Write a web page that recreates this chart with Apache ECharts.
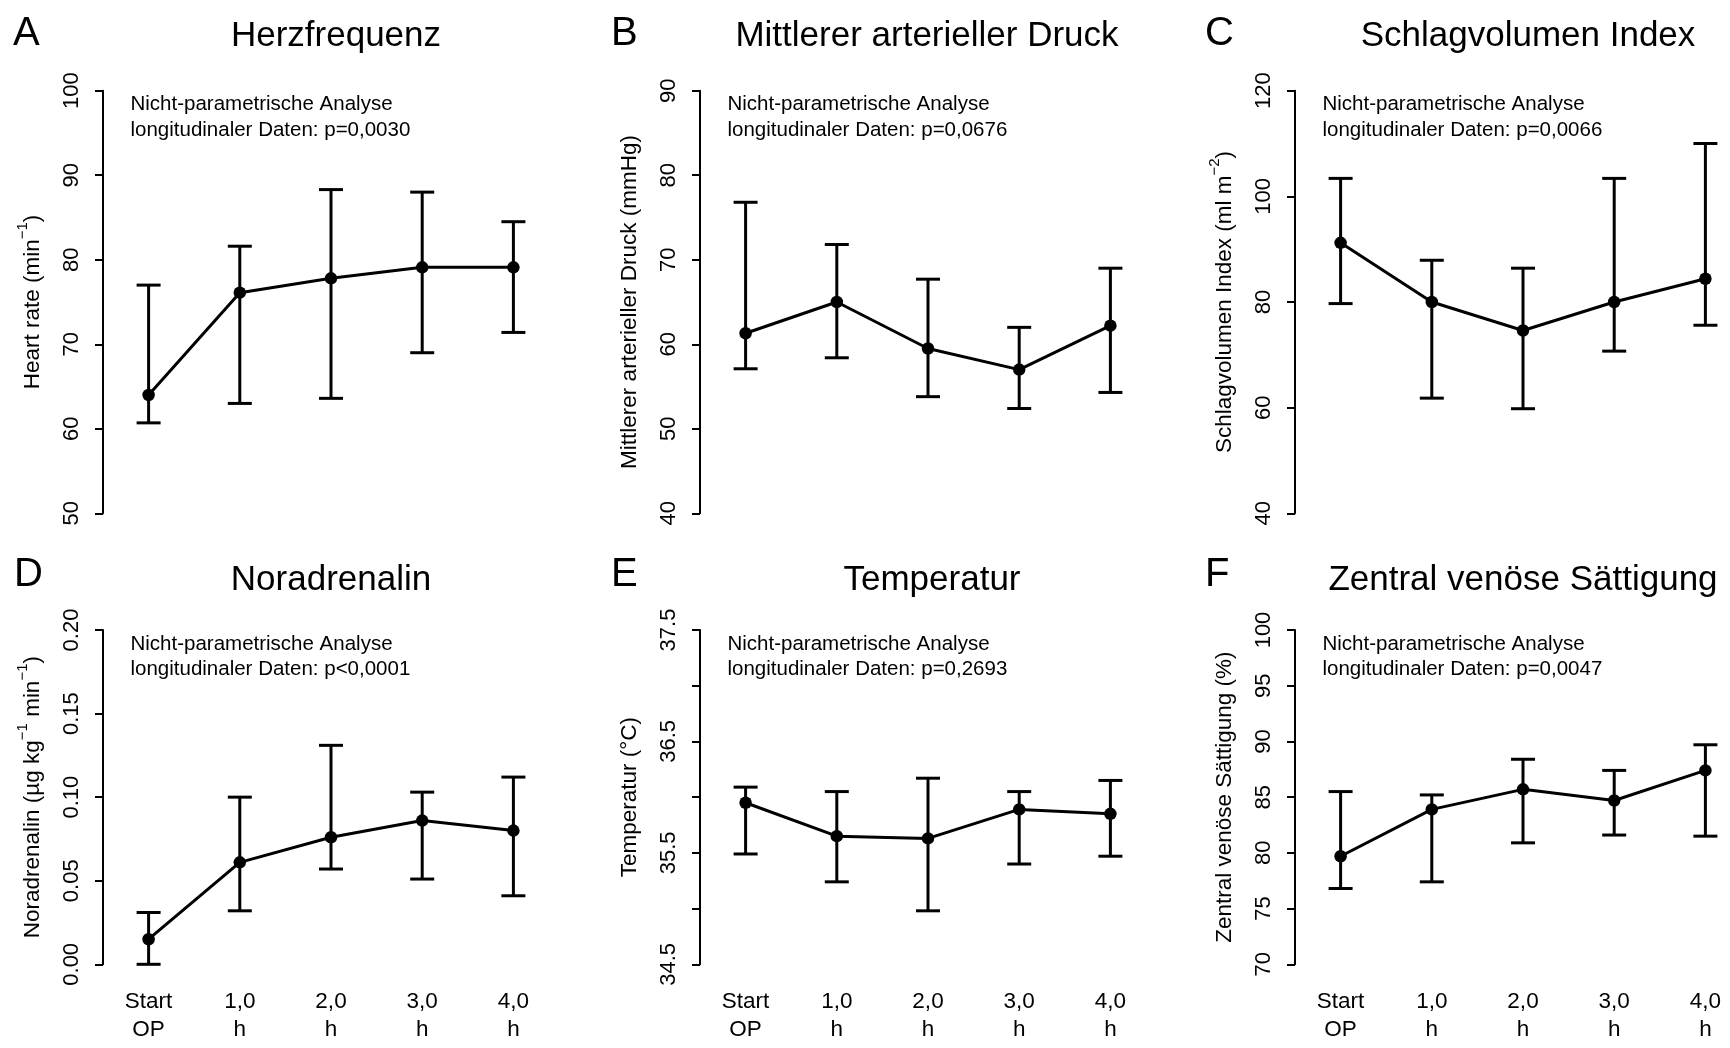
<!DOCTYPE html>
<html>
<head>
<meta charset="utf-8">
<script src="https://cdn.jsdelivr.net/npm/echarts@6/dist/echarts.min.js"></script>
<style>
  html, body { margin: 0; padding: 0; background: #fff; }
  #chart { width: 1730px; height: 1048px; }
</style>
</head>
<body>
<div id="chart"></div>
<script>
// Zeitpunkte
var categories = ['Start\nOP', '1,0\nh', '2,0\nh', '3,0\nh', '4,0\nh']

// A Herzfrequenz
var hrMean = [64.0, 76.1, 77.8, 79.1, 79.1]
var hrLow = [60.7, 63.0, 63.6, 69.0, 71.4]
var hrHigh = [77.0, 81.6, 88.3, 88.0, 84.5]

// B Mittlerer arterieller Druck
var mapMean = [61.3, 65.0, 59.5, 57.0, 62.2]
var mapLow = [57.1, 58.4, 53.8, 52.4, 54.3]
var mapHigh = [76.8, 71.8, 67.7, 62.0, 69.0]

// C Schlagvolumen Index
var sviMean = [91.2, 80.0, 74.6, 80.0, 84.4]
var sviLow = [79.7, 61.8, 59.8, 70.7, 75.6]
var sviHigh = [103.4, 87.9, 86.4, 103.4, 110.0]

// D Noradrenalin
var naMean = [0.015, 0.061, 0.076, 0.086, 0.080]
var naLow = [0.000, 0.032, 0.057, 0.051, 0.041]
var naHigh = [0.031, 0.100, 0.131, 0.103, 0.112]

// E Temperatur
var tempMean = [35.95, 35.65, 35.63, 35.89, 35.85]
var tempLow = [35.49, 35.24, 34.98, 35.40, 35.47]
var tempHigh = [36.09, 36.05, 36.17, 36.05, 36.15]

// F Zentral venöse Sättigung
var svoMean = [79.7, 83.9, 85.7, 84.7, 87.4]
var svoLow = [76.8, 77.4, 80.9, 81.6, 81.5]
var svoHigh = [85.5, 85.2, 88.4, 87.4, 89.7]

var pValues = ['p=0,0030', 'p=0,0676', 'p=0,0066', 'p<0,0001', 'p=0,2693', 'p=0,0047']

var FONT = '"Liberation Sans", Arial, Helvetica, sans-serif'

var panels = [
  { letter: 'A', title: 'Herzfrequenz', name: '{n|Heart rate (min}{s|\u22121}{n|)}',
    min: 50, max: 100, interval: 10, mean: hrMean, low: hrLow, high: hrHigh,
    fmt: function(v) { return String(v) } },
  { letter: 'B', title: 'Mittlerer arterieller Druck', name: '{n|Mittlerer arterieller Druck (mmHg)}',
    min: 40, max: 90, interval: 10, mean: mapMean, low: mapLow, high: mapHigh,
    fmt: function(v) { return String(v) } },
  { letter: 'C', title: 'Schlagvolumen Index', name: '{n|Schlagvolumen Index (ml m}{s|\u22122}{n|)}',
    min: 40, max: 120, interval: 20, mean: sviMean, low: sviLow, high: sviHigh,
    fmt: function(v) { return String(v) } },
  { letter: 'D', title: 'Noradrenalin', name: '{n|Noradrenalin (\u00b5g kg}{s|\u22121}{n| min}{s|\u22121}{n|)}',
    min: 0, max: 0.2, interval: 0.05, mean: naMean, low: naLow, high: naHigh,
    fmt: function(v) { return v.toFixed(2) } },
  { letter: 'E', title: 'Temperatur', name: '{n|Temperatur (\u00b0C)}',
    min: 34.5, max: 37.5, interval: 0.5, mean: tempMean, low: tempLow, high: tempHigh,
    fmt: function(v) { return Math.round(v * 2) % 2 === 1 ? v.toFixed(1) : '' } },
  { letter: 'F', title: 'Zentral ven\u00f6se S\u00e4ttigung', name: '{n|Zentral ven\u00f6se S\u00e4ttigung (%)}',
    min: 70, max: 100, interval: 5, mean: svoMean, low: svoLow, high: svoHigh,
    fmt: function(v) { return String(v) } }
]

// layout
var colLeft = [103, 700, 1295]
var gridWidth = 456
var rowTop = [90.7, 630]
var rowHeight = [422.6, 334.3]
var titleX = [336, 927, 1528, 331, 932, 1523]
var titleY = [36, 36, 36, 580, 580, 580]
var letterX = [13, 611, 1205, 14, 611, 1205]
var letterY = [34, 34, 34, 575, 575, 575]
var noteLine1 = [104.2, 644.5]
var noteLine2 = [130.8, 669.6]

function errorBar(params, api) {
  var x = api.value(0)
  var lo = api.coord([x, api.value(1)])
  var hi = api.coord([x, api.value(2)])
  var half = 12
  var st = { stroke: '#000', lineWidth: 3, fill: null }
  return {
    type: 'group',
    children: [
      { type: 'line', shape: { x1: lo[0], y1: lo[1], x2: hi[0], y2: hi[1] }, style: st },
      { type: 'line', shape: { x1: lo[0] - half, y1: lo[1], x2: lo[0] + half, y2: lo[1] }, style: st },
      { type: 'line', shape: { x1: hi[0] - half, y1: hi[1], x2: hi[0] + half, y2: hi[1] }, style: st }
    ]
  }
}

var grids = []
var xAxes = []
var yAxes = []
var series = []
var graphics = []

panels.forEach(function(p, i) {
  var row = Math.floor(i / 3)
  var col = i % 3
  grids.push({ left: colLeft[col], width: gridWidth, top: rowTop[row], height: rowHeight[row], outerBoundsMode: 'none' })
  xAxes.push({
    type: 'category', gridIndex: i, data: categories,
    axisLine: { show: false }, axisTick: { show: false }, splitLine: { show: false },
    axisLabel: { show: row === 1, interval: 0, color: '#000', fontFamily: FONT, fontSize: 22.5, lineHeight: 28, margin: 23 }
  })
  yAxes.push({
    type: 'value', gridIndex: i, min: p.min, max: p.max, interval: p.interval,
    name: p.name, nameLocation: 'middle', nameGap: 52,
    nameTextStyle: {
      rich: {
        n: { fontFamily: FONT, fontSize: 22.5, color: '#000', lineHeight: 36 },
        s: { fontFamily: FONT, fontSize: 15, color: '#000', lineHeight: 15, verticalAlign: 'top' }
      }
    },
    axisLine: { show: true, lineStyle: { color: '#000', width: 2 } },
    axisTick: { show: true, length: 8, lineStyle: { color: '#000', width: 2 } },
    splitLine: { show: false },
    axisLabel: { rotate: 90, margin: 20, color: '#000', fontFamily: FONT, fontSize: 22, formatter: p.fmt }
  })
  var bars = p.mean.map(function(m, k) { return [k, p.low[k], p.high[k]] })
  series.push({
    type: 'custom', xAxisIndex: i, yAxisIndex: i, renderItem: errorBar, data: bars, z: 2
  })
  series.push({
    type: 'line', xAxisIndex: i, yAxisIndex: i, data: p.mean, clip: false,
    symbol: 'circle', symbolSize: 12.5, showSymbol: true,
    lineStyle: { color: '#000', width: 3 }, itemStyle: { color: '#000' }, z: 3
  })

  graphics.push({ type: 'text', x: titleX[i], y: titleY[i],
    style: { text: p.title, font: '35px ' + FONT, fill: '#000', align: 'center', verticalAlign: 'middle' } })
  graphics.push({ type: 'text', x: letterX[i], y: letterY[i],
    style: { text: p.letter, font: '40px ' + FONT, fill: '#000', align: 'left', verticalAlign: 'middle' } })
  graphics.push({ type: 'text', x: colLeft[col] + 27.5, y: noteLine1[row],
    style: { text: 'Nicht-parametrische Analyse', font: '20.5px ' + FONT, fill: '#000', align: 'left', verticalAlign: 'middle' } })
  graphics.push({ type: 'text', x: colLeft[col] + 27.5, y: noteLine2[row],
    style: { text: 'longitudinaler Daten: ' + pValues[i], font: '20.5px ' + FONT, fill: '#000', align: 'left', verticalAlign: 'middle' } })
})

var myChart = echarts.init(document.getElementById('chart'), null, { renderer: 'canvas' })
myChart.setOption({
  backgroundColor: '#fff',
  animation: false,
  grid: grids,
  xAxis: xAxes,
  yAxis: yAxes,
  series: series,
  graphic: graphics
})
</script>
</body>
</html>
